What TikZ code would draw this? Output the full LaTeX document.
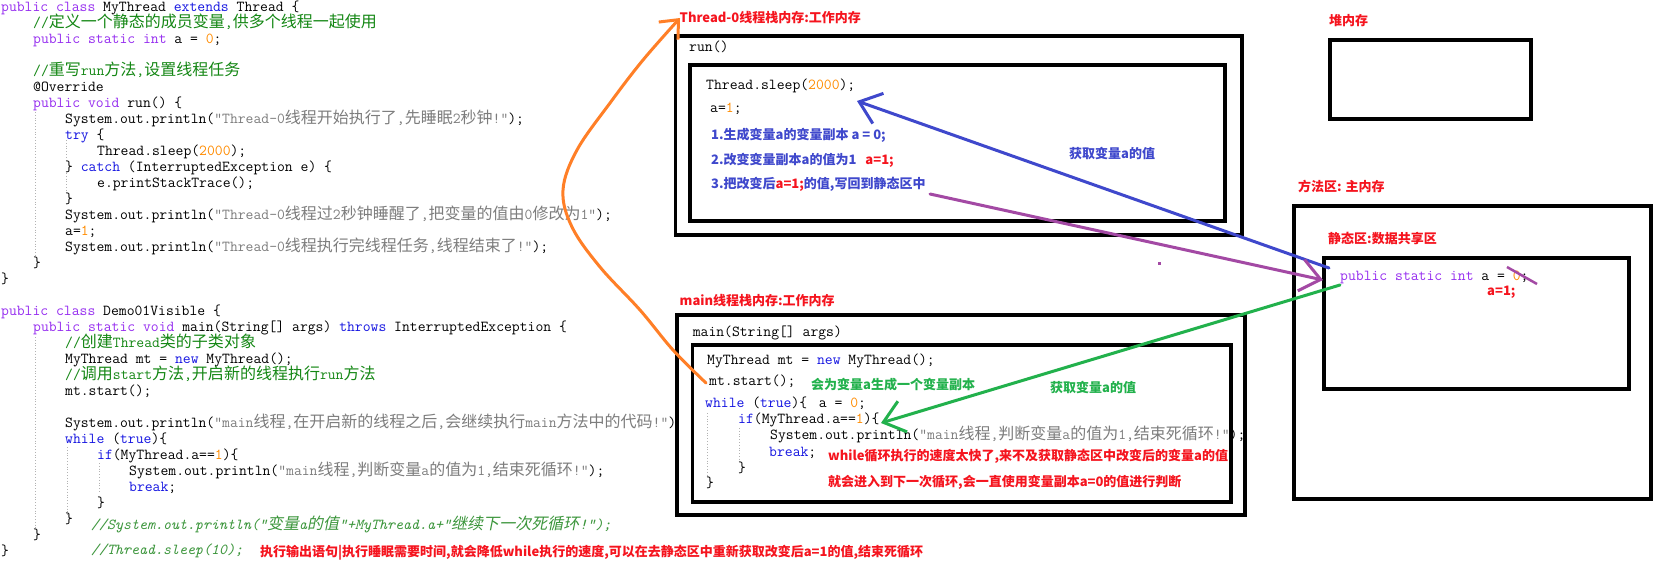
\documentclass[tikz,border=0pt]{standalone}
\usepackage{fontspec}
\usetikzlibrary{arrows.meta}
\setmainfont{Noto Sans CJK SC}
\setmonofont{Latin Modern Mono}
\newfontfamily\cjkfont{Noto Sans CJK SC}[Scale=1.05]
\newfontfamily\cjkslant{Noto Sans CJK SC}[Scale=1.05,FakeSlant=0.2]
\XeTeXinterchartokenstate=1
\newXeTeXintercharclass\CJKcls
\newcount\cjkcnt
\def\setcjkrange#1#2{\cjkcnt=#1\relax\loop\XeTeXcharclass\cjkcnt=\CJKcls\relax\ifnum\cjkcnt<#2\advance\cjkcnt by 1\relax\repeat}
\setcjkrange{"3000}{"303F}
\setcjkrange{"4E00}{"9FFF}
\setcjkrange{"FF00}{"FFEF}
\def\cjkswitch{\cjkfont}
\XeTeXinterchartoks 0 \CJKcls = {\begingroup\cjkswitch}
\XeTeXinterchartoks 4095 \CJKcls = {\begingroup\cjkswitch}
\XeTeXinterchartoks \CJKcls 0 = {\endgroup}
\XeTeXinterchartoks \CJKcls 4095 = {\endgroup}
\definecolor{kwp}{RGB}{150,45,240}
\definecolor{kwb}{RGB}{20,20,225}
\definecolor{cmt}{RGB}{20,135,20}
\definecolor{icmt}{RGB}{60,150,60}
\definecolor{strc}{RGB}{125,125,125}
\definecolor{numc}{RGB}{255,140,0}
\definecolor{pblue}{RGB}{63,72,204}
\definecolor{pgreen}{RGB}{34,177,76}
\definecolor{ppurple}{RGB}{163,73,164}
\definecolor{porange}{RGB}{255,127,39}
\definecolor{pred}{RGB}{245,20,30}
\newcommand\Kp[1]{\textcolor{kwp}{#1}}
\newcommand\Kb[1]{\textcolor{kwb}{#1}}
\newcommand\Cm[1]{\textcolor{cmt}{#1}}
\newcommand\Str[1]{\textcolor{strc}{#1}}
\newcommand\Num[1]{\textcolor{numc}{#1}}
\begin{document}
\begin{tikzpicture}[x=1pt,y=-1pt,
  code/.style={anchor=west, inner sep=0pt, font=\ttfamily\fontsize{15.24}{16}\selectfont, text height=10pt, text depth=1pt},
  icode/.style={code, text=icmt, font=\ttfamily\itshape\fontsize{15.24}{16}\selectfont\let\cjkswitch\cjkslant},
  ann/.style={anchor=west, inner sep=0pt, font={\fontsize{13}{15}\selectfont\bfseries\XeTeXinterchartokenstate=0\relax}, text height=10.5pt, text depth=2.5pt},
  box/.style={draw=black, line width=3.5pt, fill=white, anchor=north west, inner sep=0pt},
  guide/.style={draw=black!30, dotted, line width=0.8pt},
  arr/.style={line width=3pt, line cap=round, -{Straight Barb[length=20pt,width=32pt]}}]
\fill[white] (0,0) rectangle (1668,582);
\useasboundingbox (0,0) rectangle (1668,582);
% ---------- code block 1
\node[code] (c1) at (1,7) {\Kp{public class} MyThread \Kb{extends} Thread \{};
\node[code] (c2) at (33,23) {\Cm{//定义一个静态的成员变量,供多个线程一起使用}};
\node[code] (c3) at (33,39) {\Kp{public static int} a = \Num{0};};
\node[code] (c5) at (33,71) {\Cm{//重写run方法,设置线程任务}};
\node[code] (c6) at (33,87) {@Override};
\node[code] (c7) at (33,103) {\Kp{public void} run() \{};
\node[code] (c8) at (65,119) {System.out.println(\Str{"Thread-0线程开始执行了,先睡眠2秒钟!"});};
\node[code] (c9) at (65,135) {\Kb{try} \{};
\node[code] (c10) at (97,151) {Thread.sleep(\Num{2000});};
\node[code] (c11) at (65,167) {\} \Kb{catch} (InterruptedException e) \{};
\node[code] (c12) at (97,183) {e.printStackTrace();};
\node[code] (c13) at (65,199) {\}};
\node[code] (c14) at (65,215) {System.out.println(\Str{"Thread-0线程过2秒钟睡醒了,把变量的值由0修改为1"});};
\node[code] (c15) at (65,231) {a=\Num{1};};
\node[code] (c16) at (65,247) {System.out.println(\Str{"Thread-0线程执行完线程任务,线程结束了!"});};
\node[code] (c17) at (33,263) {\}};
\node[code] (c18) at (1,279) {\}};
\draw[guide] (35,112) -- (35,257);
\draw[guide] (66.5,140) -- (66.5,157);
\draw[guide] (66.5,173) -- (66.5,190);
% ---------- code block 2
\node[code] (d0) at (1,311) {\Kp{public class} Demo01Visible \{};
\node[code] (d1) at (33,327) {\Kp{public static void} main(String[] args) \Kb{throws} InterruptedException \{};
\node[code] (d2) at (65,343) {\Cm{//创建Thread类的子类对象}};
\node[code] (d3) at (65,359) {MyThread mt = \Kb{new} MyThread();};
\node[code] (d4) at (65,375) {\Cm{//调用start方法,开启新的线程执行run方法}};
\node[code] (d5) at (65,391) {mt.start();};
\node[code] (d7) at (65,423) {System.out.println(\Str{"main线程,在开启新的线程之后,会继续执行main方法中的代码!"});};
\node[code] (d8) at (65,439) {\Kb{while} (\Kb{true})\{};
\node[code] (d9) at (97,455) {\Kb{if}(MyThread.a==\Num{1})\{};
\node[code] (d10) at (129,471) {System.out.println(\Str{"main线程,判断变量a的值为1,结束死循环!"});};
\node[code] (d11) at (129,487) {\Kb{break};};
\node[code] (d12) at (97,503) {\}};
\node[code] (d13) at (65,519) {\}};
\node[icode] (d13c) at (91,525) {//System.out.println("变量a的值"+MyThread.a+"继续下一次死循环!");};
\node[code] (d14) at (33,535) {\}};
\node[code] (d15) at (1,551) {\}};
\node[icode] (d15c) at (91,550) {//Thread.sleep(10);};
\node[ann, text=pred] (note3) at (260,552) {执行输出语句|执行睡眠需要时间,就会降低while执行的速度,可以在去静态区中重新获取改变后a=1的值,结束死循环};
\draw[guide] (35,337) -- (35,530);
\draw[guide] (67,447) -- (67,517);
\draw[guide] (99,463) -- (99,493);
% ---------- boxes
\node[ann, text=pred] (t0title) at (679.5,18) {Thread-0线程栈内存:工作内存};
\node[box, minimum width=566.4pt, minimum height=198.7pt] (t0outer) at (673.6,34.3) {};
\node[box, minimum width=535pt, minimum height=156pt] (t0inner) at (688,63) {};
\node[ann, text=pred] (heapt) at (1329,21) {堆内存};
\node[box, minimum width=201pt, minimum height=79pt] (heap) at (1328,38) {};
\node[ann, text=pred] (mat) at (1298,187) {方法区: 主内存};
\node[box, minimum width=357pt, minimum height=293pt] (maouter) at (1292,204) {};
\node[ann, text=pred] (sat) at (1328,239) {静态区:数据共享区};
\node[box, minimum width=305pt, minimum height=131pt] (mainner) at (1322,256) {};
\node[ann, text=pred] (mtitle) at (679.5,301) {main线程栈内存:工作内存};
\node[box, minimum width=568pt, minimum height=200pt] (mouter) at (675,313) {};
\node[box, minimum width=538.4pt, minimum height=157pt] (minner) at (690.6,343) {};
% ---------- Thread-0 contents
\node[code] (run) at (689,47) {run()};
\node[code] (sleep) at (706,85) {Thread.sleep(\Num{2000});};
\node[code] (a1) at (710,108) {a=\Num{1};};
\node[ann, text=pblue] (s1) at (711,135) {1.生成变量a的变量副本 a = 0;};
\node[ann, text=pblue] (s2) at (711,160) {2.改变变量副本a的值为1\hspace{9pt}\textcolor{pred}{a=1;}};
\node[ann, text=pblue] (s3) at (711,184) {3.把改变后\textcolor{pred}{a=1;}的值,写回到静态区中};
\node[ann, text=pblue] (getb) at (1069,154) {获取变量a的值};
% ---------- static area contents
\node[code] (pub) at (1340,276) {\Kp{public static int} a = \Num{0};};
\node[ann, text=pred] (a1r) at (1487,291) {a=1;};
% ---------- main contents
\node[code] (mainsig) at (692.6,332) {main(String[] args)};
\node[code] (m1) at (707,360) {MyThread mt = \Kb{new} MyThread();};
\node[code] (m2) at (709,381) {mt.start();};
\node[ann, text=pgreen] (g1) at (811,385) {会为变量a生成一个变量副本};
\node[ann, text=pgreen] (g2) at (1050,388) {获取变量a的值};
\node[code] (m3) at (705,403) {\Kb{while} (\Kb{true})\{\hspace{11.7pt}a = \Num{0};};
\node[code] (m4) at (738,419) {\Kb{if}(MyThread.a==\Num{1})\{};
\node[code] (m5) at (770,435) {System.out.println(\Str{"main线程,判断变量a的值为1,结束死循环!"});};
\node[code] (m6) at (769,452) {\Kb{break};};
\node[ann, text=pred] (r1) at (828,456) {while循环执行的速度太快了,来不及获取静态区中改变后的变量a的值};
\node[code] (m7) at (738,468) {\}};
\node[ann, text=pred] (r2) at (828,482) {就会进入到下一次循环,会一直使用变量副本a=0的值进行判断};
\node[code] (m8) at (706,483) {\}};
\draw[guide] (707,413) -- (707,480);
\draw[guide] (739,428) -- (739,462);
% ---------- connectors
\coordinate (blueS) at (1329,268);
\coordinate (blueE) at (857,101);
\draw[arr, pblue] (blueS) -- (blueE);
\coordinate (purS) at (930,194);
\coordinate (purE) at (1323,280);
\draw[arr, ppurple] (purS) -- (purE);
\coordinate (grS) at (1340,285);
\coordinate (grE) at (881,423);
\draw[arr, pgreen] (grS) -- (grE);
\coordinate (orS) at (706,383);
\draw[arr, porange, -{Straight Barb[length=15pt,width=26pt]}] plot[smooth, tension=0.6] coordinates {(orS) (673,350) (640,310) (600,267) (572,227) (563,190) (577,150) (610,103) (643,60) (680,18)};
\draw[ppurple, line width=2.5pt] (1507,267) -- (1537,284);
\fill[ppurple] (1157.5,261.5) rectangle +(3,3);
\end{tikzpicture}
\end{document}
